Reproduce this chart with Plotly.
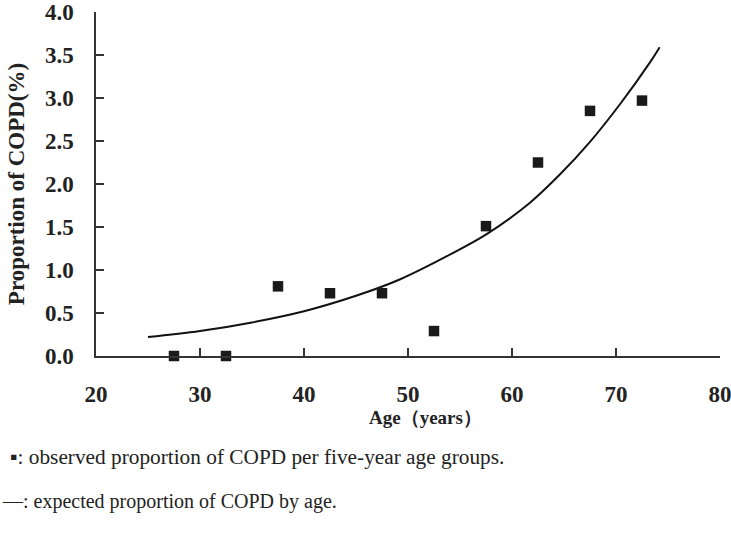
import plotly.graph_objects as go

# Observed proportion of COPD per five-year age group (midpoints)
obs_age = [27.5, 32.5, 37.5, 42.5, 47.5, 52.5, 57.5, 62.5, 67.5, 72.5]
obs_prop = [0.0, 0.0, 0.81, 0.73, 0.73, 0.29, 1.51, 2.25, 2.85, 2.97]

# Expected proportion curve
exp_age = [25.0, 30.0, 35.0, 40.0, 45.0, 49.2, 54.2, 57.6, 61.7, 64.6, 67.5, 70.4, 73.3, 74.2]
exp_prop = [0.22, 0.29, 0.39, 0.52, 0.70, 0.89, 1.19, 1.42, 1.78, 2.11, 2.49, 2.93, 3.42, 3.59]

x_ticks = [20, 30, 40, 50, 60, 70, 80]
y_ticks = [0.0, 0.5, 1.0, 1.5, 2.0, 2.5, 3.0, 3.5, 4.0]
y_tick_text = ["0.0", "0.5", "1.0", "1.5", "2.0", "2.5", "3.0", "3.5", "4.0"]

x_title = "<b>Age（years）</b>"
y_title = "<b>Proportion of COPD(%)</b>"
note_obs = "▪: observed proportion of COPD per five-year age groups."
note_exp = "—: expected proportion of COPD by age."

axis_color = "#333333"
serif = "Liberation Serif, Times New Roman, serif"

L, R, T, B = 96, 11, 12, 184
W, H = 731, 540
pw, ph = W - L - R, H - T - B

fig = go.Figure()
fig.add_trace(go.Scatter(
    x=exp_age, y=exp_prop, mode="lines",
    line=dict(color="#111111", width=2, shape="spline", smoothing=1.0),
    hoverinfo="skip", showlegend=False,
))
fig.add_trace(go.Scatter(
    x=obs_age, y=obs_prop, mode="markers",
    marker=dict(symbol="square", size=10.5, color="#1a1a1a"),
    cliponaxis=False, showlegend=False,
))

fig.update_layout(
    width=W, height=H,
    margin=dict(l=L, r=R, t=T, b=B),
    paper_bgcolor="white", plot_bgcolor="white",
    font=dict(family=serif, color="#222222"),
    xaxis=dict(
        range=[20, 80], tickvals=x_ticks, ticks="inside", ticklen=8,
        tickcolor=axis_color, tickwidth=1.5,
        showline=True, linecolor=axis_color, linewidth=1.5,
        showgrid=False, zeroline=False, automargin=False,
        tickfont=dict(family=serif, size=23, color="#222222", weight="bold"),
        ticklabelstandoff=17, ticklabeloverflow="allow",
    ),
    yaxis=dict(
        range=[0, 4.0], tickvals=y_ticks, ticktext=y_tick_text, ticks="inside", ticklen=8,
        tickcolor=axis_color, tickwidth=1.5,
        showline=True, linecolor=axis_color, linewidth=1.5,
        showgrid=False, zeroline=False, automargin=False,
        tickfont=dict(family=serif, size=23, color="#222222", weight="bold"),
        ticklabelstandoff=16, ticklabeloverflow="allow",
        title=dict(text=y_title, font=dict(family=serif, size=23, color="#222222"), standoff=14),
    ),
    annotations=[
        dict(text=x_title, xref="x", yref="paper", x=51.7, y=-62 / ph,
             xanchor="center", yanchor="middle", showarrow=False,
             font=dict(family=serif, size=19, color="#222222")),
        dict(text=note_obs, xref="paper", yref="paper", x=(-L + 8) / pw, y=-(457 - 356) / ph,
             xanchor="left", yanchor="middle", showarrow=False,
             font=dict(family=serif, size=21.3, color="#222222")),
        dict(text=note_exp, xref="paper", yref="paper", x=-L / pw, y=-(502 - 356) / ph,
             xanchor="left", yanchor="middle", showarrow=False,
             font=dict(family=serif, size=20, color="#222222")),
    ],
)

fig.write_html("out.html", config={"displayModeBar": False},
               post_script="document.body.style.margin='0';")
